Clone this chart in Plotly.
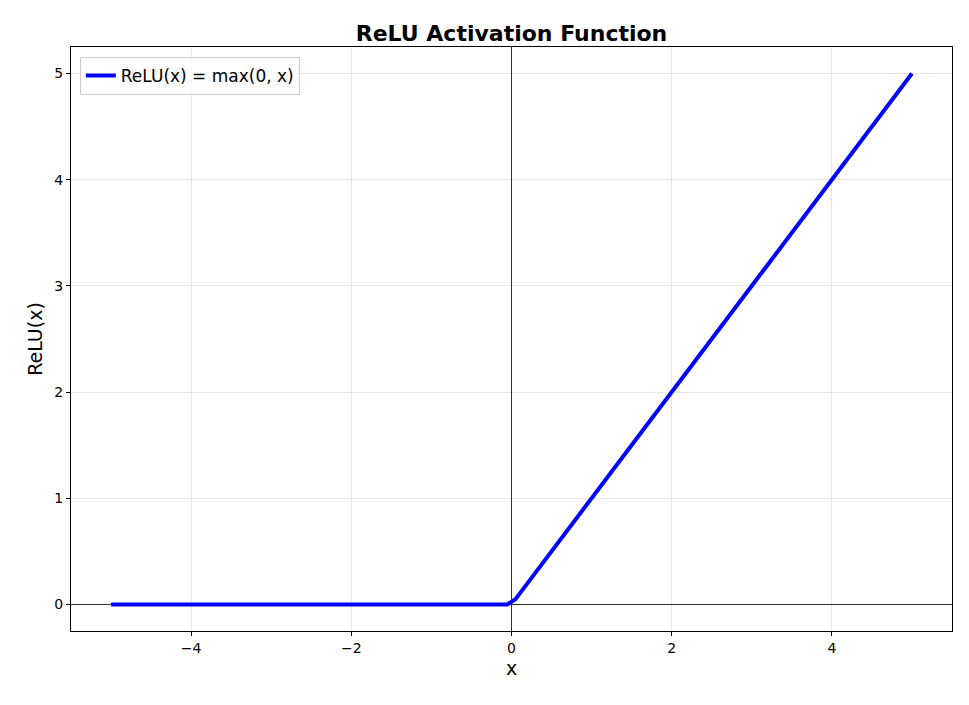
import plotly.graph_objects as go

# Data: ReLU curve breakpoints (sampled grid around the kink)
x_vals = [-5.0, -0.0505, 0.0505, 5.0]
y_vals = [0.0, 0.0, 0.0505, 5.0]
series_name = "ReLU(x) = max(0, x)"
x_ticks = [-4, -2, 0, 2, 4]
y_ticks = [0, 1, 2, 3, 4, 5]

fig = go.Figure()
fig.add_trace(go.Scatter(x=x_vals, y=y_vals, mode="lines", name=series_name,
                         line=dict(color="#0000ff", width=4)))

font_family = "DejaVu Sans, sans-serif"
axis_common = dict(
    showline=True, linecolor="black", linewidth=1, mirror=True,
    ticks="outside", ticklen=4, tickcolor="black", tickwidth=1,
    showgrid=True, gridcolor="#e6e6e6", gridwidth=1,
    zeroline=True, zerolinecolor="#333333", zerolinewidth=0.8,
    tickfont=dict(family=font_family, size=14, color="black"),
)

W, H = 961, 697  # page body adds an 8px offset
fig.update_layout(
    width=W, height=H,
    margin=dict(l=63, r=17, t=39, b=74),
    paper_bgcolor="white", plot_bgcolor="white",
    title=dict(text="<b>ReLU Activation Function</b>", x=0.5, xref="paper",
               y=1 - 25/H, yanchor="middle",
               font=dict(family=font_family, size=22, color="black")),
    xaxis=dict(range=[-5.5, 5.5], tickvals=x_ticks,
               ticktext=[("\u2212" + str(-t)) if t < 0 else str(t) for t in x_ticks],
               title=dict(text="x", font=dict(family=font_family, size=19, color="black"),
                          standoff=6),
               **axis_common),
    yaxis=dict(range=[-0.25, 5.25], tickvals=y_ticks,
               title=dict(text="ReLU(x)", font=dict(family=font_family, size=19, color="black"),
                          standoff=6),
               **axis_common),
    showlegend=True,
    legend=dict(x=0.01, y=0.983, xanchor="left", yanchor="top",
                bgcolor="rgba(255,255,255,0.8)", bordercolor="#cccccc", borderwidth=1,
                font=dict(family=font_family, size=17, color="black")),
)

fig.write_html("out.html")
